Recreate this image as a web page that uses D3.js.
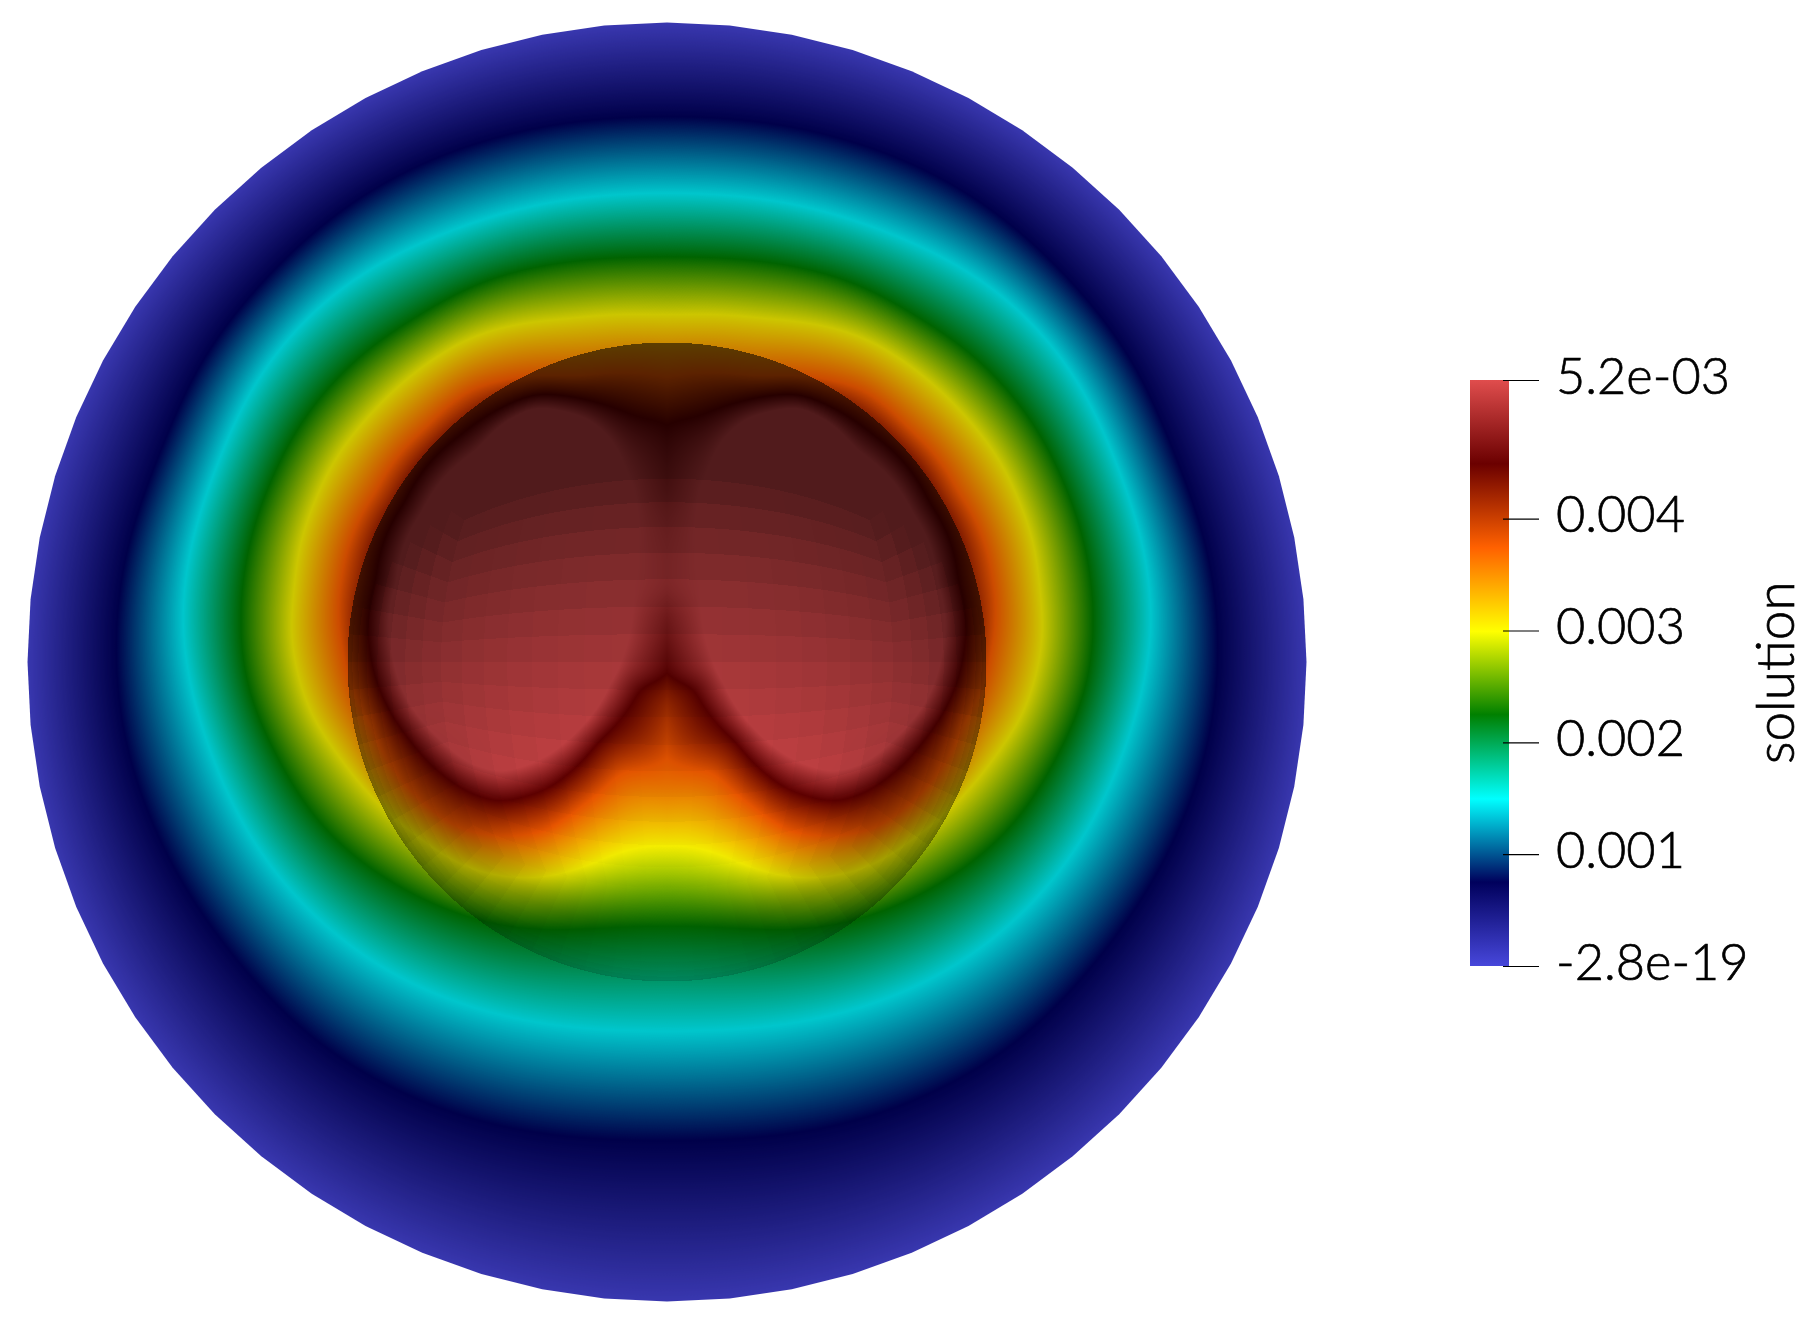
<!DOCTYPE html>
<html><head><meta charset="utf-8">
<script src="https://cdn.jsdelivr.net/npm/d3@7"></script>
<style>html,body{margin:0;padding:0;background:#fff;overflow:hidden}
canvas,svg{position:absolute;left:0;top:0}</style></head>
<body><script>
// ---- values ----
const valueMax = 5.24e-3;
const tickValues = [0, 0.001, 0.002, 0.003, 0.004, valueMax];
const tickLabels = ["-2.8e-19", "0.001", "0.002", "0.003", "0.004", "5.2e-03"];
const legendTitle = "solution";
// colour map stops (fraction of range) – rainbow desaturated
const colorStops = [0, 0.143, 0.285, 0.429, 0.571, 0.714, 0.857, 1];
const colorNames = ["#4747db", "#00005c", "#00ffff", "#008000", "#ffff00", "#ff6100", "#6b0000", "#e04d4d"];
// iso-level curves of the solution, model coordinates (axis of symmetry x=0, left half read)
const isoNavy   = [[0,-542],[-97,-539],[-197,-515],[-264,-489],[-314,-459],[-364,-419],[-414,-365],[-454,-319],[-477,-279],[-500,-213],[-535,-128],[-549,8],[-539,89],[-497,191],[-477,238],[-439,278],[-351,380],[-261,431],[-163,465],[0,472]];
const isoCyan   = [[0,-465],[-97,-462],[-197,-436],[-264,-409],[-314,-382],[-364,-339],[-397,-299],[-414,-275],[-445,-200],[-475,-115],[-484,-22],[-474,28],[-460,75],[-442,121],[-420,168],[-390,211],[-357,248],[-327,275],[-240,328],[-154,354],[0,363]];
const isoGreen  = [[0,-402],[-97,-399],[-197,-375],[-247,-345],[-290,-319],[-337,-275],[-394,-183],[-419,-106],[-425,-22],[-422,11],[-410,51],[-390,91],[-364,138],[-334,175],[-297,205],[-247,235],[-197,255],[-163,264],[-69,264],[0,258]];
const isoYellow = [[0,-345],[-97,-342],[-197,-324],[-244,-295],[-270,-274],[-300,-243],[-351,-162],[-372,-72],[-375,-22],[-369,11],[-354,55],[-337,81],[-317,108],[-290,140],[-247,175],[-202,205],[-141,217],[-94,209],[-47,187],[0,178]];
const isoOrange = [[-324,-10],[-325,-85],[-291,-170],[-240,-235],[-197,-272],[-90,-285],[0,-285],[55,-270],[100,-150],[100,-60],[60,-20],[40,30],[20,63],[0,100],[-46,109],[-85,144],[-123,170],[-166,174],[-204,168],[-250,135],[-297,61]];
const isoDark   = [[-297,-12],[-284,35],[-257,78],[-230,108],[-197,131],[-167,140],[-120,127],[-69,80],[-26,25],[0,13],[15,-15],[36,-50],[100,-80],[180,-110],[150,-155],[35,-195],[22,-218],[0,-239],[-29,-244],[-72,-260],[-132,-268],[-170,-252],[-205,-228],[-262,-160],[-291,-82]];
const isoPeak   = [[-274,-5],[-257,42],[-232,72],[-197,101],[-167,110],[-127,98],[-87,66],[-57,22],[-42,-12],[-35,-50],[-33,-80],[-30,-110],[-30,-150],[-42,-195],[-55,-222],[-78,-243],[-132,-255],[-165,-238],[-190,-212],[-245,-150],[-270,-80]];
const blurWidths = [8, 28, 28, 22, 16, 10, 10, 10];
const diskRadius = 639.5, sphereRadius = 319.5;

// ---- layout ----
const W = 1816, H = 1328, cx = 667, cy = 662;
const px = d3.scaleLinear().domain([-1,1]).range([cx-1,cx+1]);
const py = d3.scaleLinear().domain([-1,1]).range([cy-1,cy+1]);
const legendY = d3.scaleLinear().domain([0,valueMax]).range([966,380]);

// colour
const colorT = d3.scaleLinear().domain(colorStops).range(colorNames).interpolate(d3.interpolateRgb);
const LUTN = 2048, lut = new Float32Array(3*(LUTN+1));
for (let i=0;i<=LUTN;i++){const c=d3.rgb(colorT(i/LUTN));lut[3*i]=c.r;lut[3*i+1]=c.g;lut[3*i+2]=c.b;}

// polar tables around the lobe centre
const lobe = [-150,-60], NA = 1440;
function polar(points,blur){
  const pts = points.map(p=>({a:Math.atan2(p[1]-lobe[1],p[0]-lobe[0]),r:Math.hypot(p[0]-lobe[0],p[1]-lobe[1])}))
    .sort((a,b)=>a.a-b.a);
  const n = pts.length, out = new Float32Array(NA*3), as = pts.map(p=>p.a);
  for (let i=0;i<NA;i++){
    const a = -Math.PI + 2*Math.PI*i/NA;
    let j = d3.bisectRight(as, a);
    const p0 = pts[(j-1+n)%n], p1 = pts[j%n];
    let a0 = p0.a, a1 = p1.a;
    if (j===0) a0 -= 2*Math.PI;
    if (j===n) a1 += 2*Math.PI;
    const f = (a-a0)/(a1-a0||1), r = p0.r+(p1.r-p0.r)*f;
    out[i]=r;out[i+NA]=r;out[i+2*NA]=r;
  }
  d3.blur(out, blur);
  return out.subarray(NA,2*NA);
}
const mirror = a => a.concat(a.filter(p=>p[0]<0).map(p=>[-p[0],p[1]]));
const edge = d3.range(72).map(i=>[diskRadius*Math.cos(i*Math.PI/36),diskRadius*Math.sin(i*Math.PI/36)]);
const levels = [edge,mirror(isoNavy),mirror(isoCyan),mirror(isoGreen),mirror(isoYellow),isoOrange,isoDark,isoPeak]
  .map((pts,i)=>({t:colorStops[i],r:polar(pts,blurWidths[i])}));
function fieldT(x,y){
  const X=-Math.abs(x), dx=X-lobe[0], dy=y-lobe[1], r=Math.hypot(dx,dy);
  let i=Math.floor((Math.atan2(dy,dx)+Math.PI)/(2*Math.PI)*NA); if(i>=NA)i=NA-1;
  if (r<=levels[7].r[i]) return 1;
  for(let k=6;k>=0;k--){
    const rk=levels[k].r[i];
    if(r<=rk){const ro=levels[k+1].r[i];return levels[k].t+(levels[k+1].t-levels[k].t)*(rk-r)/(rk-ro);}
  }
  return 0;
}
// flat-shaded cubed-sphere facet
const step = 5*Math.PI/180, L=[0,0.8,0.6];
const q = v => (Math.floor(Math.atan(v)/step)+0.5)*step;
const smooth = (a,b,v)=>{const s=Math.min(1,Math.max(0,(v-a)/(b-a)));return s*s*(3-2*s);};
function shade(nx,ny,nz){
  const ax=Math.abs(nx),ay=Math.abs(ny);
  let fx,fy,fz;
  if(nz>=ax&&nz>=ay){fx=Math.tan(q(nx/nz));fy=Math.tan(q(ny/nz));fz=1;}
  else if(ax>=ay){fx=Math.sign(nx);fy=Math.tan(q(ny/ax));fz=Math.tan(q(nz/ax));}
  else{fx=Math.tan(q(nx/ay));fy=Math.sign(ny);fz=Math.tan(q(nz/ay));}
  const m=Math.hypot(fx,fy,fz);
  const d=Math.max(0,(fx*L[0]+fy*L[1]+fz*L[2])/m);
  const f=0.36+0.62*d;
  const limb=0.22*(1-smooth(0.5,0.8,nz))*smooth(0.1,0.5,ny);
  return f*(1-limb);
}

// ---- draw the field ----
const off=document.createElement("canvas");off.width=W;off.height=H;
const octx=off.getContext("2d"),img=octx.createImageData(W,H),D=img.data;
for(let yy=0;yy<H;yy++){for(let xx=0;xx<1400;xx++){
  const x=px.invert(xx+0.5),y=py.invert(yy+0.5),rr=Math.hypot(x,y);
  if(rr>diskRadius+6)continue;
  const t=fieldT(x,y),k=3*Math.round(Math.min(1,Math.max(0,t))*LUTN);
  let f=0.8;
  if(rr<sphereRadius){const nx=x/sphereRadius,ny=y/sphereRadius,nz=Math.sqrt(Math.max(0,1-nx*nx-ny*ny));f=shade(nx,ny,nz);}
  const o=4*(yy*W+xx);
  D[o]=lut[k]*f;D[o+1]=lut[k+1]*f*0.97;D[o+2]=lut[k+2]*f;D[o+3]=255;
}}
octx.putImageData(img,0,0);
const canvas=d3.select("body").append("canvas").attr("width",W).attr("height",H).style("width",W+"px").style("height",H+"px");
const ctx=canvas.node().getContext("2d");
ctx.fillStyle="#fff";ctx.fillRect(0,0,W,H);
ctx.save();ctx.translate(cx,cy);ctx.beginPath();
d3.lineRadial().angle(d=>d*2*Math.PI/64).radius(diskRadius).curve(d3.curveLinearClosed).context(ctx)(d3.range(64));
ctx.clip();ctx.translate(-cx,-cy);ctx.drawImage(off,0,0);ctx.restore();

// ---- legend ----
const svg=d3.select("body").append("svg").attr("width",W).attr("height",H);
const grad=svg.append("defs").append("linearGradient").attr("id","cb").attr("x1",0).attr("x2",0).attr("y1",1).attr("y2",0);
grad.selectAll("stop").data(colorStops).join("stop").attr("offset",d=>d).attr("stop-color",(d,i)=>colorNames[i]);
svg.append("rect").attr("x",1470).attr("y",legendY(valueMax)).attr("width",39).attr("height",legendY(0)-legendY(valueMax)).attr("fill","url(#cb)");
const axis=d3.axisRight(legendY).tickValues(tickValues).tickSize(36).tickPadding(17).tickFormat((d,i)=>tickLabels[i]);
const g=svg.append("g").attr("transform","translate(1503,0)").call(axis);
g.select(".domain").remove();
g.selectAll("line").attr("stroke","#000").attr("stroke-width",1.2);
g.selectAll("text").attr("fill","#000").attr("stroke","#000").attr("stroke-width",0.7).style("font-family","Lato").style("font-weight",300).style("font-size","50.5px").attr("dy","0").attr("y",13);
svg.append("text").attr("transform","translate(1794,764) rotate(-90)").style("font-family","Lato").style("font-weight",300).style("font-size","53px").attr("fill","#000").attr("stroke","#000").attr("stroke-width",0.7).text(legendTitle);
</script></body></html>
